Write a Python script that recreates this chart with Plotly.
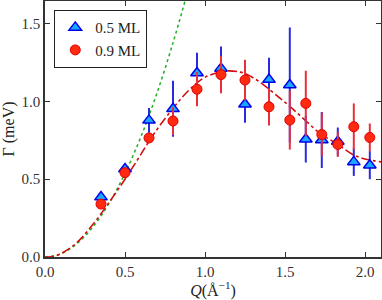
import plotly.graph_objects as go

# Data: 0.5 ML (blue triangles)
q_a = [0.35, 0.50, 0.65, 0.80, 0.95, 1.10, 1.25, 1.40, 1.53, 1.63, 1.73, 1.83, 1.93, 2.03]
g_a = [0.385, 0.565, 0.878, 0.952, 1.182, 1.212, 0.982, 1.140, 1.105, 0.757, 0.752, 0.742, 0.611, 0.590]
e_a = [0.00, 0.02, 0.08, 0.18, 0.13, 0.14, 0.12, 0.14, 0.37, 0.15, 0.18, 0.09, 0.09, 0.09]

# Data: 0.9 ML (red circles)
q_b = [0.35, 0.50, 0.65, 0.80, 0.95, 1.10, 1.25, 1.40, 1.53, 1.63, 1.73, 1.83, 1.93, 2.03]
g_b = [0.340, 0.542, 0.765, 0.874, 1.078, 1.172, 1.137, 0.965, 0.880, 0.987, 0.787, 0.723, 0.837, 0.768]
e_b = [0.00, 0.00, 0.00, 0.09, 0.11, 0.12, 0.13, 0.12, 0.19, 0.21, 0.14, 0.08, 0.15, 0.09]

# Fit curve (red dash-dot)
q_fit = [0.0, 0.06, 0.18, 0.30, 0.41, 0.50, 0.58, 0.68, 0.80, 0.90, 1.00, 1.13, 1.22, 1.26,
         1.34, 1.47, 1.55, 1.63, 1.72, 1.82, 1.93, 2.00, 2.10]
g_fit = [0.0, 0.005, 0.075, 0.210, 0.365, 0.500, 0.628, 0.790, 0.955, 1.072, 1.155, 1.195, 1.188, 1.174,
         1.126, 1.019, 0.950, 0.875, 0.794, 0.730, 0.655, 0.630, 0.611]

# Small-Q limit (green dotted)
q_lim = [0.0, 0.10, 0.20, 0.30, 0.40, 0.50, 0.60, 0.70, 0.80, 0.875]
g_lim = [0.0, 0.021, 0.086, 0.194, 0.344, 0.538, 0.774, 1.054, 1.376, 1.645]

x_ticks = [0.0, 0.5, 1.0, 1.5, 2.0]
y_ticks = [0.0, 0.5, 1.0, 1.5]

FONT = "Liberation Serif, DejaVu Serif, serif"

fig = go.Figure()

fig.add_trace(go.Scatter(
    x=q_lim, y=g_lim, mode="lines", showlegend=False,
    line=dict(color="#22b022", width=1.5, dash="dot", shape="spline"),
))
fig.add_trace(go.Scatter(
    x=q_fit, y=g_fit, mode="lines", showlegend=False,
    line=dict(color="#d01010", width=1.6, dash="dashdot", shape="spline"),
))
fig.add_trace(go.Scatter(
    x=q_a, y=g_a, mode="markers", name="0.5 ML",
    marker=dict(symbol="triangle-up", size=11, color="#18a8ff",
                line=dict(color="#0000ee", width=1.5)),
    error_y=dict(type="data", array=e_a, visible=True, color="#2a2ae0",
                 thickness=2, width=0),
))
fig.add_trace(go.Scatter(
    x=q_b, y=g_b, mode="markers", name="0.9 ML",
    marker=dict(symbol="circle", size=10, color="#ff2a10",
                line=dict(color="#e00000", width=1)),
    error_y=dict(type="data", array=e_b, visible=True, color="#e8303a",
                 thickness=2, width=0),
))

axis_common = dict(
    showline=True, linecolor="#333333", linewidth=1.5, mirror="ticks",
    ticks="inside", ticklen=5, tickwidth=1.2, tickcolor="#333333",
    showgrid=False, zeroline=False, automargin=False,
    tickfont=dict(family=FONT, size=15, color="#333333"),
)

fig.update_xaxes(
    range=[0, 2.1], tickvals=x_ticks, tickformat=".1f",
    title=dict(text="<i>Q</i>(Å<sup>−1</sup>)", font=dict(family=FONT, size=16, color="#222222"),
               standoff=1),
    **axis_common,
)
fig.update_yaxes(
    range=[0, 1.645], tickvals=y_ticks, tickformat=".1f",
    title=dict(text="Γ (meV)", font=dict(family=FONT, size=16, color="#222222"),
               standoff=4),
    **axis_common,
)

fig.update_layout(
    width=382, height=300,
    margin=dict(l=45, r=1, t=1, b=43),
    paper_bgcolor="white", plot_bgcolor="white",
    font=dict(family=FONT, size=15, color="#222222"),
    legend=dict(
        x=0.027, y=0.965, xanchor="left", yanchor="top",
        bgcolor="white", bordercolor="#222222", borderwidth=1.2,
        font=dict(family=FONT, size=15, color="#222222"),
        tracegroupgap=0, itemwidth=30,
    ),
)

fig.write_html(
    "out.html",
    config={"displayModeBar": False},
    post_script="document.body.style.margin='0';document.body.style.padding='0';"
                "document.body.style.overflow='hidden';",
)
